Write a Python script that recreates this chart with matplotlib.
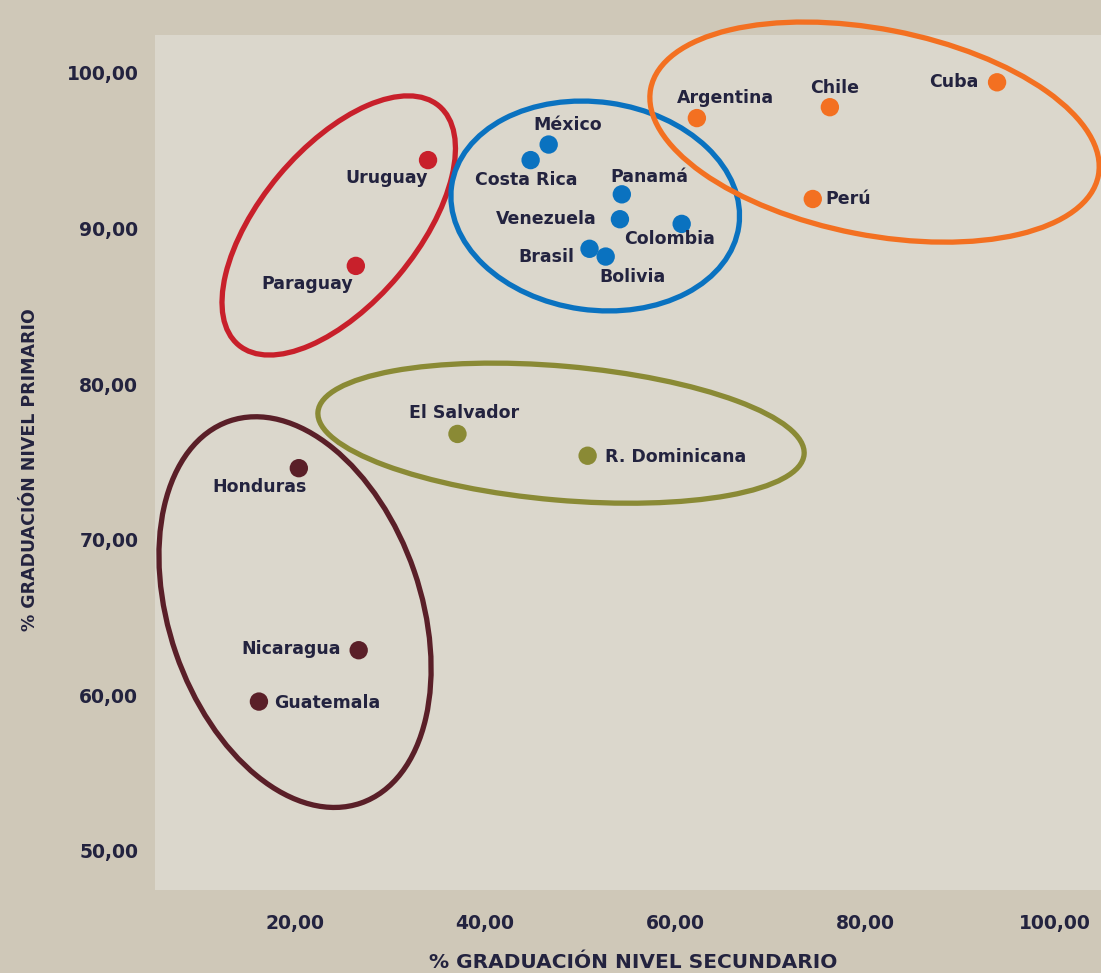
import matplotlib
matplotlib.use('Agg')
import matplotlib.pyplot as plt
from matplotlib.patches import Ellipse
from matplotlib.transforms import ScaledTranslation

# data
paises = ['Cuba', 'Chile', 'Argentina', 'Perú',
          'Uruguay', 'Paraguay',
          'México', 'Costa Rica', 'Panamá', 'Venezuela', 'Colombia', 'Brasil', 'Bolivia',
          'El Salvador', 'R. Dominicana',
          'Honduras', 'Nicaragua', 'Guatemala']
secundario = [93.9, 76.3, 62.3, 74.5,
              34.0, 26.4,
              46.7, 44.8, 54.4, 54.2, 60.7, 51.0, 52.7,
              37.1, 50.8,
              20.4, 26.7, 16.2]
primario = [99.4, 97.8, 97.1, 91.9,
            94.4, 87.6,
            95.4, 94.4, 92.2, 90.6, 90.3, 88.7, 88.2,
            76.8, 75.4,
            74.6, 62.9, 59.6]
grupo = ['o', 'o', 'o', 'o',
         'r', 'r',
         'b', 'b', 'b', 'b', 'b', 'b', 'b',
         'v', 'v',
         'm', 'm', 'm']
xticks = [20, 40, 60, 80, 100]
yticks = [50, 60, 70, 80, 90, 100]

colores = {'o': '#f37021', 'r': '#c8202b', 'b': '#0a72c0', 'v': '#8a8a35', 'm': '#5a1f28'}

# label placement: (dx px, dy px down, ha)
pos_etiq = [(-19, 0, 'right'), (5, -19, 'center'), (29, -20, 'center'), (13, 0, 'left'),
            (0, 18, 'right'), (-3, 18, 'right'),
            (19, -20, 'center'), (-4, 20, 'center'), (28, -17, 'center'), (-23, 0, 'right'),
            (-12, 15, 'center'), (-15, 8, 'right'), (-6, 20, 'left'),
            (7, -21, 'center'), (17, 1, 'left'),
            (-39, 19, 'center'), (-18, -1, 'right'), (15, 1, 'left')]

# ellipses: centre (data), width, height (px), angle
elipses = [('r', 24.6, 90.2, 312, 156, 50),
           ('b', 51.6, 91.45, 290, 208, -8),
           ('o', 81.0, 96.2, 456, 206, -11),
           ('v', 48.0, 76.85, 488, 134, -5),
           ('m', 20.0, 65.35, 252, 404, 19)]

texto = '#23233f'
fig = plt.figure(figsize=(11.01, 9.73), dpi=100, facecolor='#cfc8b8')
ax = fig.add_axes([155/1101, 1-890/973, 1-155/1101, 855/973])
ax.set_facecolor('#dbd7cc')
ax.set_xlim(5.26, 104.84)
ax.set_ylim(47.49, 102.44)
for s in ax.spines.values():
    s.set_visible(False)

ax.scatter(secundario, primario, s=175, c=[colores[g] for g in grupo], zorder=3, linewidths=0)

for nombre, x, y, (dx, dy, ha) in zip(paises, secundario, primario, pos_etiq):
    ax.annotate(nombre, (x, y), xytext=(dx*0.72, -dy*0.72), textcoords='offset points',
                ha=ha, va='center', fontsize=12.5, fontweight='bold', color=texto, zorder=4)

for g, cx, cy, w, h, ang in elipses:
    tr = fig.dpi_scale_trans + ScaledTranslation(cx, cy, ax.transData)
    e = Ellipse((0, 0), w/100, h/100, angle=ang, transform=tr, fill=False,
                edgecolor=colores[g], linewidth=3.8, clip_on=False, zorder=2)
    ax.add_patch(e)

ax.set_xticks(xticks)
ax.set_yticks(yticks)
ax.set_xticklabels([('%.2f' % v).replace('.', ',') for v in xticks], fontweight='bold',
                   fontsize=13.5, color=texto)
ax.set_yticklabels([('%.2f' % v).replace('.', ',') for v in yticks], fontweight='bold',
                   fontsize=13.5, color=texto)
ax.tick_params(length=0)
ax.tick_params(axis='x', pad=17)
ax.tick_params(axis='y', pad=12)

fig.text(633/1101, 1-963/973, '% GRADUACIÓN NIVEL SECUNDARIO', ha='center', va='center',
         fontsize=14.5, fontweight='bold', color=texto)
fig.text(30/1101, 1-470/973, '% GRADUACIÓN NIVEL PRIMARIO', ha='center', va='center',
         rotation=90, fontsize=12.5, fontweight='bold', color=texto,
         family=['Liberation Sans Narrow', 'DejaVu Sans'])

fig.savefig('out.png', dpi=100, facecolor=fig.get_facecolor())
